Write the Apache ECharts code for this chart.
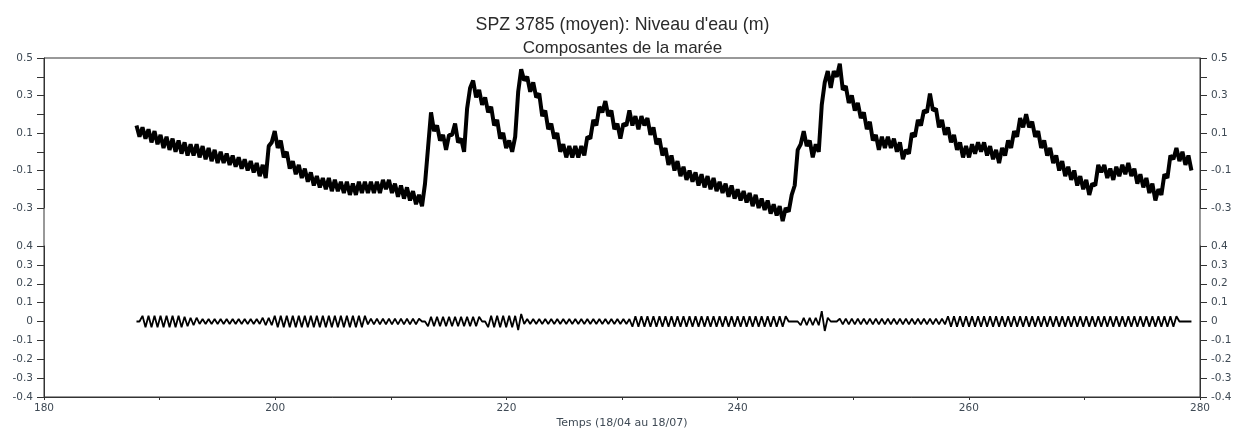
<!DOCTYPE html>
<html>
<head>
<meta charset="utf-8">
<script src="https://cdn.jsdelivr.net/npm/echarts@6/dist/echarts.min.js"></script>
<style>html,body{margin:0;padding:0;background:#fff}#c{width:1245px;height:430px}</style>
</head>
<body>
<div id="c"></div>
<script>
// Sample times: one value every 0.26 day (high / low of the semi-diurnal tide), from day 188
const startDay = 188;
const stepDay = 0.26;

// Niveau d'eau (m)
const waterLevel = [
 0.14,0.08,0.13,0.07,0.12,0.05,0.11,0.04,0.09,0.02,
 0.08,0.01,0.07,0.0,0.06,-0.01,0.05,-0.02,0.04,-0.02,
 0.04,-0.03,0.03,-0.04,0.02,-0.05,0.01,-0.06,0.0,-0.06,
 -0.01,-0.07,-0.02,-0.08,-0.03,-0.09,-0.04,-0.10,-0.05,-0.11,
 -0.06,-0.13,-0.07,-0.14,0.03,0.05,0.11,0.02,0.06,-0.03,
 0.0,-0.09,-0.05,-0.12,-0.07,-0.14,-0.09,-0.16,-0.11,-0.18,
 -0.13,-0.19,-0.14,-0.20,-0.14,-0.21,-0.15,-0.21,-0.16,-0.22,
 -0.16,-0.23,-0.17,-0.23,-0.16,-0.22,-0.16,-0.22,-0.16,-0.22,
 -0.16,-0.22,-0.15,-0.20,-0.15,-0.22,-0.17,-0.24,-0.18,-0.25,
 -0.19,-0.26,-0.21,-0.28,-0.23,-0.29,-0.17,0.02,0.21,0.11,
 0.14,0.06,0.09,0.01,0.09,0.09,0.15,0.05,0.07,0.0,
 0.23,0.34,0.38,0.29,0.33,0.25,0.29,0.21,0.24,0.14,
 0.17,0.07,0.10,0.02,0.06,0.0,0.08,0.32,0.44,0.38,
 0.40,0.32,0.37,0.29,0.31,0.19,0.22,0.12,0.15,0.07,
 0.10,0.0,0.04,-0.03,0.03,-0.03,0.03,-0.03,0.03,-0.02,
 0.08,0.07,0.17,0.14,0.24,0.21,0.27,0.19,0.22,0.12,
 0.15,0.07,0.15,0.14,0.22,0.14,0.19,0.12,0.19,0.14,
 0.18,0.09,0.13,0.04,0.07,-0.02,0.02,-0.07,-0.02,-0.10,
 -0.05,-0.13,-0.08,-0.15,-0.10,-0.16,-0.11,-0.18,-0.12,-0.19,
 -0.13,-0.20,-0.14,-0.21,-0.16,-0.22,-0.17,-0.24,-0.18,-0.25,
 -0.20,-0.26,-0.21,-0.27,-0.22,-0.29,-0.23,-0.30,-0.25,-0.31,
 -0.26,-0.33,-0.28,-0.34,-0.29,-0.37,-0.30,-0.32,-0.23,-0.18,
 0.01,0.04,0.11,0.03,0.06,-0.03,0.04,0.0,0.25,0.37,
 0.43,0.34,0.43,0.40,0.47,0.33,0.35,0.26,0.30,0.22,
 0.26,0.18,0.21,0.12,0.16,0.06,0.09,0.01,0.08,0.02,
 0.08,0.02,0.07,0.0,0.05,-0.04,0.01,-0.01,0.10,0.08,
 0.17,0.14,0.22,0.21,0.31,0.22,0.23,0.13,0.17,0.09,
 0.13,0.05,0.09,0.01,0.05,-0.03,0.03,-0.03,0.04,-0.01,
 0.05,0.0,0.05,-0.02,0.03,-0.04,0.01,-0.06,0.02,-0.02,
 0.06,0.02,0.11,0.08,0.18,0.13,0.20,0.13,0.16,0.08,
 0.11,0.02,0.06,-0.02,0.02,-0.06,-0.02,-0.10,-0.05,-0.13,
 -0.08,-0.15,-0.10,-0.18,-0.13,-0.20,-0.15,-0.23,-0.17,-0.18,
 -0.07,-0.11,-0.07,-0.14,-0.09,-0.15,-0.08,-0.13,-0.07,-0.12,
 -0.06,-0.13,-0.09,-0.17,-0.12,-0.19,-0.14,-0.22,-0.17,-0.26,
 -0.20,-0.23,-0.12,-0.14,-0.02,-0.04,0.02,-0.05,0.0,-0.07,-0.02,-0.10
];

// Composantes de la marée (m)
const tideComponent = [
 0,0,.03,-.03,.03,-.03,.03,-.03,.03,-.03,
 .03,-.03,.03,-.03,.03,-.03,.025,-.025,.02,-.02,
 .02,-.013,.013,-.013,.013,-.013,.013,-.013,.013,-.013,
 .013,-.013,.013,-.013,.013,-.013,.013,-.013,.013,-.013,
 .013,-.013,.02,-.02,.02,-.02,.03,-.03,.03,-.03,
 .03,-.03,.03,-.03,.03,-.03,.03,-.03,.03,-.03,
 .03,-.03,.03,-.03,.03,-.03,.03,-.03,.03,-.03,
 .03,-.03,.03,-.03,.03,-.03,.03,-.015,.015,-.015,
 .015,-.015,.015,-.015,.015,-.015,.015,-.015,.015,-.015,
 .015,-.015,.015,-.015,.015,0,0,-.025,.025,-.025,
 .025,-.025,.025,-.025,.025,-.025,.025,-.025,.025,-.025,
 .025,-.025,.025,-.025,.025,0,0,-.03,.03,-.03,
 .03,-.03,.03,-.03,.03,-.03,.03,-.045,.04,-.013,
 .013,-.013,.013,-.013,.013,-.013,.013,-.013,.013,-.013,
 .013,-.013,.013,-.013,.013,-.013,.013,-.013,.013,-.013,
 .013,-.013,.013,-.013,.013,-.013,.013,-.013,.013,-.013,
 .013,-.013,.013,-.013,.013,-.028,.028,-.028,.028,-.028,
 .028,-.028,.028,-.028,.028,-.028,.028,-.028,.028,-.028,
 .028,-.028,.028,-.028,.028,-.028,.028,-.028,.028,-.028,
 .028,-.028,.028,-.028,.028,-.028,.028,-.028,.028,-.028,
 .028,-.028,.028,-.028,.028,-.028,.028,-.028,.028,-.028,
 .028,-.028,.028,-.028,.028,-.028,.028,0,0,0,
 0,-.02,.02,-.02,.02,-.02,.02,-.02,.055,-.05,
 .02,0,0,0,.015,-.015,.015,-.015,.015,-.015,
 .015,-.015,.015,-.015,.015,-.015,.015,-.015,.015,-.015,
 .015,-.015,.015,-.015,.015,-.015,.015,-.015,.015,-.015,
 .015,-.015,.015,-.015,.015,-.015,.015,-.015,.015,-.015,
 .028,-.028,.028,-.028,.028,-.028,.028,-.028,.028,-.028,
 .028,-.028,.028,-.028,.028,-.028,.028,-.028,.028,-.028,
 .028,-.028,.028,-.028,.028,-.028,.028,-.028,.028,-.028,
 .028,-.028,.028,-.028,.028,-.028,.028,-.028,.028,-.028,
 .028,-.028,.028,-.028,.028,-.028,.028,-.028,.028,-.028,
 .028,-.028,.028,-.028,.028,-.028,.028,-.028,.028,-.028,
 .028,-.028,.028,-.028,.028,-.028,.028,-.028,.028,-.028,
 .028,-.028,.028,-.028,.028,-.028,.028,0,0,0,0,0
];

// Axis ranges / ticks
const xRange = [180, 280];
const xTickStep = 20;
const upperRange = [-0.3, 0.5];
const upperTickStep = 0.2;
const lowerRange = [-0.4, 0.4];
const lowerTickStep = 0.1;

const titleText = "SPZ 3785 (moyen): Niveau d'eau (m)";
const subtitleText = "Composantes de la marée";
const xName = "Temps (18/04 au 18/07)";

const toPairs = arr => arr.map((v, i) => [+(startDay + i * stepDay).toFixed(2), v]);

const FONT = "'Liberation Sans', Arial, sans-serif";
const LFONT = "'DejaVu Sans', sans-serif";
const AX = '#333';
const LBL = '#3f4a55';

function yAx(grid, pos, range, step, minor) {
  return {
    type: 'value', gridIndex: grid, position: pos,
    min: range[0], max: range[1], interval: step,
    axisLine: { show: true, onZero: false, lineStyle: { color: AX, width: 1 } },
    axisTick: { show: true, length: 7, lineStyle: { color: AX } },
    minorTick: { show: minor, splitNumber: 2, length: 7, lineStyle: { color: AX } },
    axisLabel: { color: LBL, fontSize: 10.5, fontFamily: LFONT, margin: 11 },
    splitLine: { show: false }
  };
}

const chart = echarts.init(document.getElementById('c'), null, { renderer: 'canvas' });
chart.setOption({
  animation: false,
  backgroundColor: '#fff',
  title: [
    { text: titleText, left: 'center', top: 11,
      textStyle: { fontSize: 17.8, fontWeight: 'normal', color: '#2a2a2a', fontFamily: FONT } },
    { text: subtitleText, left: 'center', top: 35,
      textStyle: { fontSize: 17, fontWeight: 'normal', color: '#2a2a2a', fontFamily: FONT } }
  ],
  grid: [
    { left: 44, right: 45, top: 58, bottom: 33, show: true, borderColor: AX, borderWidth: 1, backgroundColor: 'transparent' },
    { left: 44, right: 45, top: 58, height: 150 },
    { left: 44, right: 45, top: 246, bottom: 33 }
  ],
  xAxis: [
    { type: 'value', gridIndex: 0, min: xRange[0], max: xRange[1], show: false },
    { type: 'value', gridIndex: 1, min: xRange[0], max: xRange[1], show: false },
    { type: 'value', gridIndex: 2, min: xRange[0], max: xRange[1], interval: xTickStep,
      name: xName, nameLocation: 'middle', nameGap: 21,
      nameTextStyle: { fontSize: 11, color: LBL, fontFamily: LFONT },
      axisLine: { show: true, onZero: false, lineStyle: { color: AX, width: 1 } },
      axisTick: { show: true, length: 3, lineStyle: { color: AX } },
      minorTick: { show: true, splitNumber: 2, length: 3, lineStyle: { color: AX } },
      axisLabel: { color: LBL, fontSize: 10.5, fontFamily: LFONT, margin: 6 },
      splitLine: { show: false } }
  ],
  yAxis: [
    { type: 'value', gridIndex: 0, min: 0, max: 1, show: false },
    yAx(1, 'left', upperRange, upperTickStep, true),
    yAx(1, 'right', upperRange, upperTickStep, true),
    yAx(2, 'left', lowerRange, lowerTickStep, false),
    yAx(2, 'right', lowerRange, lowerTickStep, false)
  ],
  series: [
    { name: "Niveau d'eau", type: 'line', xAxisIndex: 1, yAxisIndex: 1,
      data: toPairs(waterLevel), showSymbol: false, clip: false,
      lineStyle: { color: '#000', width: 4 } },
    { name: 'Marée', type: 'line', xAxisIndex: 2, yAxisIndex: 3,
      data: toPairs(tideComponent), showSymbol: false, clip: false,
      lineStyle: { color: '#000', width: 1.8 } }
  ]
});
</script>
</body>
</html>
